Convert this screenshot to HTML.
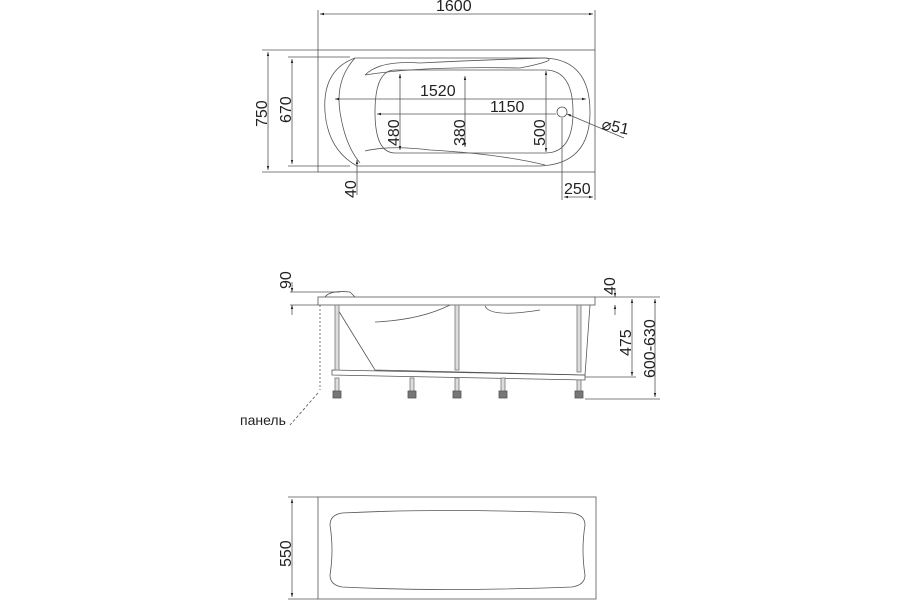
<!DOCTYPE html>
<html><head><meta charset="utf-8"><style>html,body{margin:0;padding:0;background:#fff}svg{display:block}text{font-family:"Liberation Sans",sans-serif;fill:#222}</style></head><body>
<svg width="900" height="600" viewBox="0 0 900 600" xmlns="http://www.w3.org/2000/svg">
<defs><marker id="a" viewBox="0 0 10 10" refX="10" refY="5" markerWidth="7" markerHeight="5" orient="auto-start-reverse"><path d="M0,2 L10,5 L0,8z" fill="#222"/></marker></defs>
<g stroke="#555" stroke-width="0.8" fill="none">
<rect x="318" y="50" width="277" height="122"/>
<line x1="318" y1="10" x2="318" y2="50"/><line x1="595" y1="10" x2="595" y2="50"/>
<line x1="320" y1="14" x2="593" y2="14" marker-start="url(#a)" marker-end="url(#a)"/>
<line x1="262" y1="50" x2="318" y2="50"/><line x1="262" y1="172" x2="318" y2="172"/>
<line x1="268" y1="52" x2="268" y2="170" marker-start="url(#a)" marker-end="url(#a)"/>
<line x1="288" y1="57" x2="350" y2="57"/><line x1="288" y1="166" x2="350" y2="166"/>
<line x1="292" y1="59" x2="292" y2="164" marker-start="url(#a)" marker-end="url(#a)"/>
<path d="M355,58 Q322,70 325,112 Q328,150 357,166 L540,166 Q590,164 590,112 Q590,60 545,58 Z"/>
<path d="M355,58 Q335,80 340,112 Q345,145 360,163"/>
<path d="M365,75 Q380,60 420,63 Q480,60 545,58"/><path d="M365,75 Q420,66 520,68 Q560,60 545,58"/>
<path d="M365,151 Q390,145 430,150 Q500,154 545,165"/>
<path d="M395,70 L545,70 Q573,70 573,112 Q573,153 545,153 L395,153 Q375,153 375,112 Q375,70 395,70 Z"/>
<line x1="335" y1="99" x2="586" y2="99" marker-start="url(#a)" marker-end="url(#a)"/>
<line x1="377" y1="114" x2="556" y2="114" marker-start="url(#a)"/>
<line x1="400" y1="74" x2="400" y2="150" marker-start="url(#a)" marker-end="url(#a)"/>
<line x1="465" y1="76" x2="465" y2="147" marker-start="url(#a)" marker-end="url(#a)"/>
<line x1="546" y1="71" x2="546" y2="152" marker-start="url(#a)" marker-end="url(#a)"/>
<circle cx="562" cy="112" r="5"/>
<line x1="567" y1="114" x2="624" y2="138" marker-start="url(#a)"/>
<line x1="357" y1="160" x2="357" y2="195" marker-start="url(#a)"/>
<line x1="562" y1="118" x2="562" y2="200"/><line x1="595" y1="172" x2="595" y2="200"/>
<line x1="564" y1="197" x2="593" y2="197" marker-start="url(#a)" marker-end="url(#a)"/>
<rect x="318" y="297" width="277" height="8"/>
<path d="M325,297 Q330,290 350,292 L355,297"/>
<path d="M375,322 Q420,320 450,305"/><path d="M485,306 Q490,318 540,310"/>
<path d="M335,305 L375,370 L585,375 L590,305"/>
<line x1="290" y1="292" x2="340" y2="292"/><line x1="290" y1="305" x2="318" y2="305"/>
<line x1="292" y1="282" x2="292" y2="292" marker-end="url(#a)"/><line x1="292" y1="315" x2="292" y2="305" marker-end="url(#a)"/>
<line x1="595" y1="297" x2="660" y2="297"/>
<line x1="615" y1="288" x2="615" y2="297" marker-end="url(#a)"/><line x1="615" y1="315" x2="615" y2="305" marker-end="url(#a)"/>
<line x1="632" y1="299" x2="632" y2="376" marker-start="url(#a)" marker-end="url(#a)"/>
<line x1="585" y1="377" x2="636" y2="377"/>
<line x1="655" y1="299" x2="655" y2="397" marker-start="url(#a)" marker-end="url(#a)"/>
<line x1="585" y1="399" x2="660" y2="399"/>
<line x1="320" y1="305" x2="320" y2="390" stroke-dasharray="2,2"/>
<line x1="318" y1="393" x2="290" y2="425" stroke-dasharray="3,2"/>
<path d="M332,370 L585,375 L585,380 L332,375Z"/>
<g fill="#ddd" stroke="#777"><rect x="335" y="305" width="4" height="65"/><rect x="455" y="305" width="4" height="65"/><rect x="577" y="305" width="4" height="67"/>
<rect x="335" y="378" width="4" height="14"/><rect x="410" y="378" width="4" height="14"/><rect x="455" y="378" width="4" height="14"/><rect x="501" y="378" width="4" height="14"/><rect x="577" y="380" width="4" height="12"/></g>
<g fill="#777" stroke="#555"><rect x="333" y="391" width="8" height="7"/><rect x="408" y="391" width="8" height="7"/><rect x="453" y="391" width="8" height="7"/><rect x="499" y="391" width="8" height="7"/><rect x="575" y="391" width="8" height="7"/></g>
<rect x="318" y="497" width="278" height="102"/>
<path d="M342,513 Q440,508 572,513 Q585,515 585,525 Q581,550 585,575 Q585,585 572,587 Q440,592 342,587 Q330,585 330,575 Q334,550 330,525 Q330,515 342,513Z"/>
<line x1="288" y1="497" x2="318" y2="497"/><line x1="288" y1="599" x2="318" y2="599"/>
<line x1="292" y1="499" x2="292" y2="597" marker-start="url(#a)" marker-end="url(#a)"/>
</g>
<g font-size="16">
<text x="436" y="11">1600</text>
<text transform="translate(267,127) rotate(-90)">750</text>
<text transform="translate(291,123) rotate(-90)">670</text>
<text x="420" y="96">1520</text>
<text x="490" y="112">1150</text>
<text transform="translate(399,146) rotate(-90)">480</text>
<text transform="translate(465,146) rotate(-90)">380</text>
<text transform="translate(545,146) rotate(-90)">500</text>
<text x="601" y="129" transform="rotate(12 601 129)">⌀51</text>
<text transform="translate(356,198) rotate(-90)">40</text>
<text x="564" y="194">250</text>
<text transform="translate(291,289) rotate(-90)">90</text>
<text transform="translate(615,295) rotate(-90)">40</text>
<text transform="translate(631,356) rotate(-90)">475</text>
<text transform="translate(655,378) rotate(-90)">600-630</text>
<text x="240" y="425" font-size="14">панель</text>
<text transform="translate(291,567) rotate(-90)">550</text>
</g>
</svg>
</body></html>
